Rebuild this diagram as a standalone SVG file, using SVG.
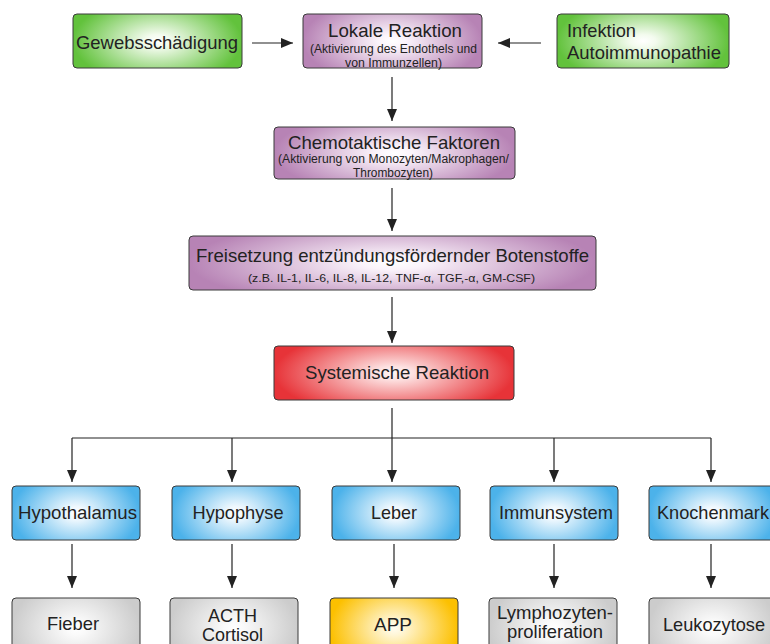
<svg xmlns="http://www.w3.org/2000/svg" width="770" height="644" viewBox="0 0 770 644">
<defs>
<radialGradient id="gGreen" cx="0.5" cy="0.5" r="0.5" gradientTransform="translate(0.5 0.5) scale(1 1.6) translate(-0.5 -0.5)"><stop offset="0" stop-color="#ffffff"/><stop offset="0.15" stop-color="#f3fbee"/><stop offset="1" stop-color="#62c23c"/></radialGradient>
<radialGradient id="gPurple" cx="0.5" cy="0.5" r="0.5" gradientTransform="translate(0.5 0.5) scale(1 1.6) translate(-0.5 -0.5)"><stop offset="0" stop-color="#ffffff"/><stop offset="0.15" stop-color="#fbf4fb"/><stop offset="1" stop-color="#b783b5"/></radialGradient>
<radialGradient id="gRed" cx="0.5" cy="0.5" r="0.5" gradientTransform="translate(0.5 0.5) scale(1 1.6) translate(-0.5 -0.5)"><stop offset="0" stop-color="#fff4f4"/><stop offset="0.15" stop-color="#fde2e2"/><stop offset="1" stop-color="#e73338"/></radialGradient>
<radialGradient id="gBlue" cx="0.5" cy="0.5" r="0.5" gradientTransform="translate(0.5 0.5) scale(1 1.6) translate(-0.5 -0.5)"><stop offset="0" stop-color="#ffffff"/><stop offset="0.15" stop-color="#eff8fe"/><stop offset="1" stop-color="#4cb2ea"/></radialGradient>
<radialGradient id="gGray" cx="0.5" cy="0.5" r="0.5" gradientTransform="translate(0.5 0.5) scale(1 1.6) translate(-0.5 -0.5)"><stop offset="0" stop-color="#ffffff"/><stop offset="0.15" stop-color="#fafafa"/><stop offset="1" stop-color="#cccccc"/></radialGradient>
<radialGradient id="gYellow" cx="0.5" cy="0.5" r="0.5" gradientTransform="translate(0.5 0.5) scale(1 1.6) translate(-0.5 -0.5)"><stop offset="0" stop-color="#fffdf2"/><stop offset="0.15" stop-color="#fff6d6"/><stop offset="1" stop-color="#fcc000"/></radialGradient>
<marker id="ah" markerUnits="userSpaceOnUse" markerWidth="12" markerHeight="10" refX="12" refY="5" orient="auto"><path d="M0,0 L12,5 L0,10 z" fill="#222"/></marker>
</defs>
<style>
.box{stroke:#3a3a3a;stroke-width:1}
.t{font-family:"Liberation Sans",Arial,sans-serif;font-size:18.5px;fill:#222;text-anchor:middle}
.s{font-family:"Liberation Sans",Arial,sans-serif;font-size:12px;fill:#222;text-anchor:middle}
.xs{font-family:"Liberation Sans",Arial,sans-serif;font-size:10.5px;fill:#222;text-anchor:middle}
.c{fill:none;stroke:#222;stroke-width:1.2}
</style>
<rect width="770" height="644" fill="#ffffff"/>
<g id="connectors">
<line class="c" x1="252" y1="43" x2="293" y2="43" marker-end="url(#ah)"/>
<line class="c" x1="541" y1="43" x2="498" y2="43" marker-end="url(#ah)"/>
<line class="c" x1="392" y1="77" x2="392" y2="121" marker-end="url(#ah)"/>
<line class="c" x1="392" y1="188" x2="392" y2="231" marker-end="url(#ah)"/>
<line class="c" x1="392" y1="297" x2="392" y2="343" marker-end="url(#ah)"/>
<line class="c" x1="392" y1="408" x2="392" y2="482" marker-end="url(#ah)"/>
<line class="c" x1="72" y1="438" x2="711" y2="438"/>
<line class="c" x1="72" y1="438" x2="72" y2="482" marker-end="url(#ah)"/>
<line class="c" x1="232" y1="438" x2="232" y2="482" marker-end="url(#ah)"/>
<line class="c" x1="554" y1="438" x2="554" y2="482" marker-end="url(#ah)"/>
<line class="c" x1="711" y1="438" x2="711" y2="482" marker-end="url(#ah)"/>
<line class="c" x1="72" y1="544" x2="72" y2="588" marker-end="url(#ah)"/>
<line class="c" x1="232" y1="544" x2="232" y2="588" marker-end="url(#ah)"/>
<line class="c" x1="394" y1="544" x2="394" y2="588" marker-end="url(#ah)"/>
<line class="c" x1="554" y1="544" x2="554" y2="588" marker-end="url(#ah)"/>
<line class="c" x1="711" y1="544" x2="711" y2="588" marker-end="url(#ah)"/>
</g>
<g id="gewebsschaedigung">
<rect class="box" x="73" y="14" width="169" height="54" rx="4" fill="url(#gGreen)"/>
<text class="t" x="157" y="49" textLength="162" lengthAdjust="spacingAndGlyphs">Gewebsschädigung</text>
</g>
<g id="lokale-reaktion">
<rect class="box" x="303" y="14" width="179" height="54" rx="4" fill="url(#gPurple)"/>
<text class="t" x="395" y="37" textLength="134" lengthAdjust="spacingAndGlyphs">Lokale Reaktion</text>
<text class="s" x="393.5" y="53" textLength="167" lengthAdjust="spacingAndGlyphs">(Aktivierung des Endothels und</text>
<text class="s" x="393.5" y="66.5" textLength="97" lengthAdjust="spacingAndGlyphs">von Immunzellen)</text>
</g>
<g id="infektion">
<rect class="box" x="557" y="14" width="172" height="54" rx="4" fill="url(#gGreen)"/>
<text class="t" x="567" y="37" style="text-anchor:start" textLength="69" lengthAdjust="spacingAndGlyphs">Infektion</text>
<text class="t" x="567" y="59" style="text-anchor:start" textLength="154" lengthAdjust="spacingAndGlyphs">Autoimmunopathie</text>
</g>
<g id="chemotaktische-faktoren">
<rect class="box" x="274" y="127" width="241" height="52" rx="4" fill="url(#gPurple)"/>
<text class="t" x="394" y="149" textLength="212" lengthAdjust="spacingAndGlyphs">Chemotaktische Faktoren</text>
<text class="s" x="393.5" y="163" textLength="231" lengthAdjust="spacingAndGlyphs">(Aktivierung von Monozyten/Makrophagen/</text>
<text class="s" x="393" y="177" textLength="80" lengthAdjust="spacingAndGlyphs">Thrombozyten)</text>
</g>
<g id="freisetzung">
<rect class="box" x="189" y="236" width="407" height="54" rx="4" fill="url(#gPurple)"/>
<text class="t" x="392.5" y="262" textLength="393" lengthAdjust="spacingAndGlyphs">Freisetzung entzündungsfördernder Botenstoffe</text>
<text class="xs" x="391.5" y="281.5" textLength="287" lengthAdjust="spacingAndGlyphs">(z.B. IL-1, IL-6, IL-8, IL-12, TNF-α, TGF,-α, GM-CSF)</text>
</g>
<g id="systemische-reaktion">
<rect class="box" x="274" y="346" width="240" height="54" rx="4" fill="url(#gRed)"/>
<text class="t" x="397" y="379" textLength="184" lengthAdjust="spacingAndGlyphs">Systemische Reaktion</text>
</g>
<g id="hypothalamus">
<rect class="box" x="12" y="486" width="128" height="54" rx="4" fill="url(#gBlue)"/>
<text class="t" x="77.5" y="519" textLength="119" lengthAdjust="spacingAndGlyphs">Hypothalamus</text>
</g>
<g id="hypophyse">
<rect class="box" x="172" y="486" width="128" height="54" rx="4" fill="url(#gBlue)"/>
<text class="t" x="238" y="519" textLength="91" lengthAdjust="spacingAndGlyphs">Hypophyse</text>
</g>
<g id="leber">
<rect class="box" x="332" y="486" width="128" height="54" rx="4" fill="url(#gBlue)"/>
<text class="t" x="394" y="519" textLength="46" lengthAdjust="spacingAndGlyphs">Leber</text>
</g>
<g id="immunsystem">
<rect class="box" x="490" y="486" width="128" height="54" rx="4" fill="url(#gBlue)"/>
<text class="t" x="556" y="519" textLength="114" lengthAdjust="spacingAndGlyphs">Immunsystem</text>
</g>
<g id="knochenmark">
<rect class="box" x="649" y="486" width="128" height="54" rx="4" fill="url(#gBlue)"/>
<text class="t" x="657" y="519" style="text-anchor:start" textLength="112" lengthAdjust="spacingAndGlyphs">Knochenmark</text>
</g>
<g id="fieber">
<rect class="box" x="12" y="598" width="128" height="60" rx="4" fill="url(#gGray)"/>
<text class="t" x="73" y="630" textLength="52" lengthAdjust="spacingAndGlyphs">Fieber</text>
</g>
<g id="acth-cortisol">
<rect class="box" x="170" y="598" width="128" height="60" rx="4" fill="url(#gGray)"/>
<text class="t" x="232.5" y="622" textLength="49" lengthAdjust="spacingAndGlyphs">ACTH</text>
<text class="t" x="232.5" y="641" textLength="61" lengthAdjust="spacingAndGlyphs">Cortisol</text>
</g>
<g id="app">
<rect class="box" x="330" y="598" width="128" height="60" rx="4" fill="url(#gYellow)"/>
<text class="t" x="393" y="631" textLength="38" lengthAdjust="spacingAndGlyphs">APP</text>
</g>
<g id="lymphozytenproliferation">
<rect class="box" x="489" y="598" width="128" height="60" rx="4" fill="url(#gGray)"/>
<text class="t" x="555" y="619" textLength="116" lengthAdjust="spacingAndGlyphs">Lymphozyten-</text>
<text class="t" x="555" y="638" textLength="96" lengthAdjust="spacingAndGlyphs">proliferation</text>
</g>
<g id="leukozytose">
<rect class="box" x="649" y="598" width="128" height="60" rx="4" fill="url(#gGray)"/>
<text class="t" x="714" y="631" textLength="102" lengthAdjust="spacingAndGlyphs">Leukozytose</text>
</g>
</svg>
